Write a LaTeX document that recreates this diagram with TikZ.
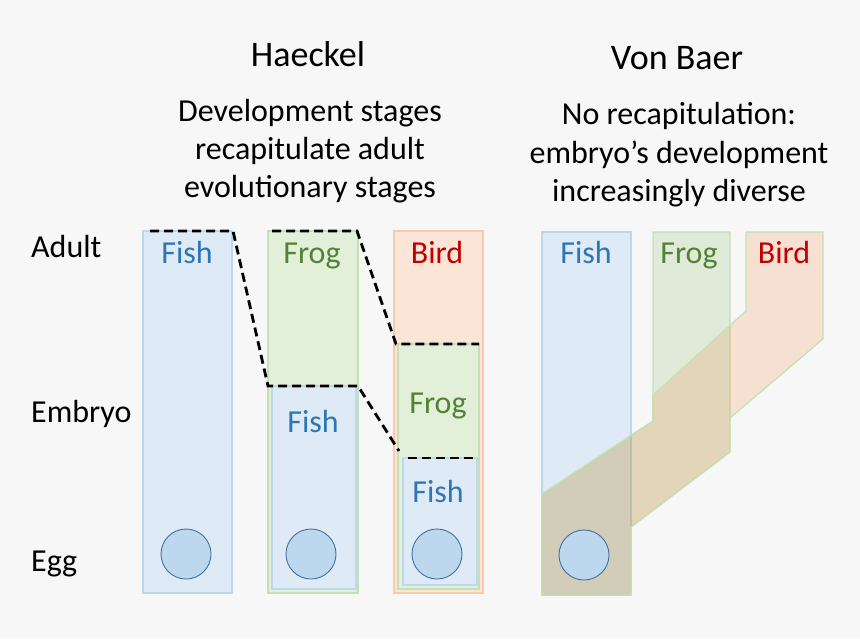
\documentclass[tikz,border=0pt]{standalone}
\usepackage{fontspec}
\setmainfont{Carlito}
\definecolor{bg}{HTML}{F7F7F7}
\definecolor{fishfill}{HTML}{DEEBF7}
\definecolor{fishline}{HTML}{BDD7EE}
\definecolor{frogfill}{HTML}{E2F0D9}
\definecolor{frogline}{HTML}{C5E0B4}
\definecolor{birdfill}{HTML}{FBE5D6}
\definecolor{birdline}{HTML}{F8CBAD}
\definecolor{fishtxt}{HTML}{2E75B6}
\definecolor{frogtxt}{HTML}{548235}
\definecolor{birdtxt}{HTML}{C00000}
\definecolor{eggfill}{HTML}{BDD7EE}
\definecolor{eggline}{HTML}{41719C}
\definecolor{frogbase}{HTML}{70AD47}
\definecolor{birdbase}{HTML}{ED7D31}
\begin{document}
\begin{tikzpicture}[x=1pt,y=-1pt,
  title/.style={font=\fontsize{36}{40}\selectfont, anchor=base, inner sep=0pt},
  body/.style={font=\fontsize{32}{38}\selectfont, anchor=base, inner sep=0pt},
  rowlabel/.style={font=\fontsize{32}{38}\selectfont, anchor=base west, inner sep=0pt},
  fishbox/.style={fill=fishfill, draw=fishline, line width=1.2pt},
  frogbox/.style={fill=frogfill, draw=frogline, line width=1.2pt},
  birdbox/.style={fill=birdfill, draw=birdline, line width=1.2pt},
  egg/.style={circle, fill=eggfill, draw=eggline, line width=0.9pt, minimum size=50pt, inner sep=0pt},
  stage/.style={black, line width=2.8pt, dash pattern=on 9pt off 5pt},
  vbfrog/.style={fill=frogbase, fill opacity=0.17, draw=frogline, line width=1.2pt},
  vbbird/.style={fill=birdbase, fill opacity=0.19, draw=frogline, line width=1.2pt}]
\fill[bg] (0,0) rectangle (860,638);
\useasboundingbox (0,0) rectangle (860,638);

% titles
\node[title] (th) at (308,66) {Haeckel};
\node[title] (tv) at (677,69) {Von Baer};
\node[body] (h1) at (310,121) {Development stages};
\node[body] (h2) at (310,159) {recapitulate adult};
\node[body] (h3) at (310,197) {evolutionary stages};
\node[body] (v1) at (679,124) {No recapitulation:};
\node[body] (v2) at (679,163) {embryo’s development};
\node[body] (v3) at (679,201) {increasingly diverse};

% row labels
\node[rowlabel] (adult) at (31,257) {Adult};
\node[rowlabel] (embryo) at (31,422) {Embryo};
\node[rowlabel] (eggl) at (31,571) {Egg};

% Haeckel columns
\draw[fishbox] (143,231) rectangle (232,593);
\draw[frogbox] (268,231) rectangle (358,593);
\draw[fishbox] (272,386) rectangle (356,589);
\draw[birdbox] (394,231) rectangle (483,593);
\draw[frogbox] (398,344) rectangle (479,589);
\draw[fishbox] (403,458) rectangle (477,585);

\node[egg] (e1) at (186,554) {};
\node[egg] (e2) at (311,554) {};
\node[egg] (e3) at (437,554) {};

\node[body, fishtxt] (hf1) at (187,263) {Fish};
\node[body, frogtxt] (hg2) at (312,263) {Frog};
\node[body, birdtxt] (hb3) at (437,263) {Bird};
\node[body, fishtxt] (hf2) at (313,432) {Fish};
\node[body, frogtxt] (hg3) at (438,413) {Frog};
\node[body, fishtxt] (hf3) at (438,502) {Fish};

\draw[stage] (150,231) -- (233,231) -- (268,386) -- (358,386) -- (399,451);
\draw[stage] (408,458) -- (477,458);
\draw[stage] (272,231) -- (357,231) -- (396,344) -- (479,344);

% Von Baer
\draw[fishbox] (542,232) rectangle (631,595);
\draw[vbfrog] (653,232) -- (730,232) -- (730,452) -- (631,527) -- (631,595)
  -- (542,595) -- (542,494) -- (653,421) -- cycle;
\draw[vbbird] (746,232) -- (823,232) -- (823,339) -- (730,418) -- (730,452)
  -- (631,527) -- (631,595) -- (542,595) -- (542,494) -- (653,421)
  -- (653,395) -- (746,311) -- cycle;
\node[egg] (e4) at (584,555) {};
\node[body, fishtxt] (vf) at (586,263) {Fish};
\node[body, frogtxt] (vg) at (689,263) {Frog};
\node[body, birdtxt] (vb) at (784,263) {Bird};
\end{tikzpicture}
\end{document}
